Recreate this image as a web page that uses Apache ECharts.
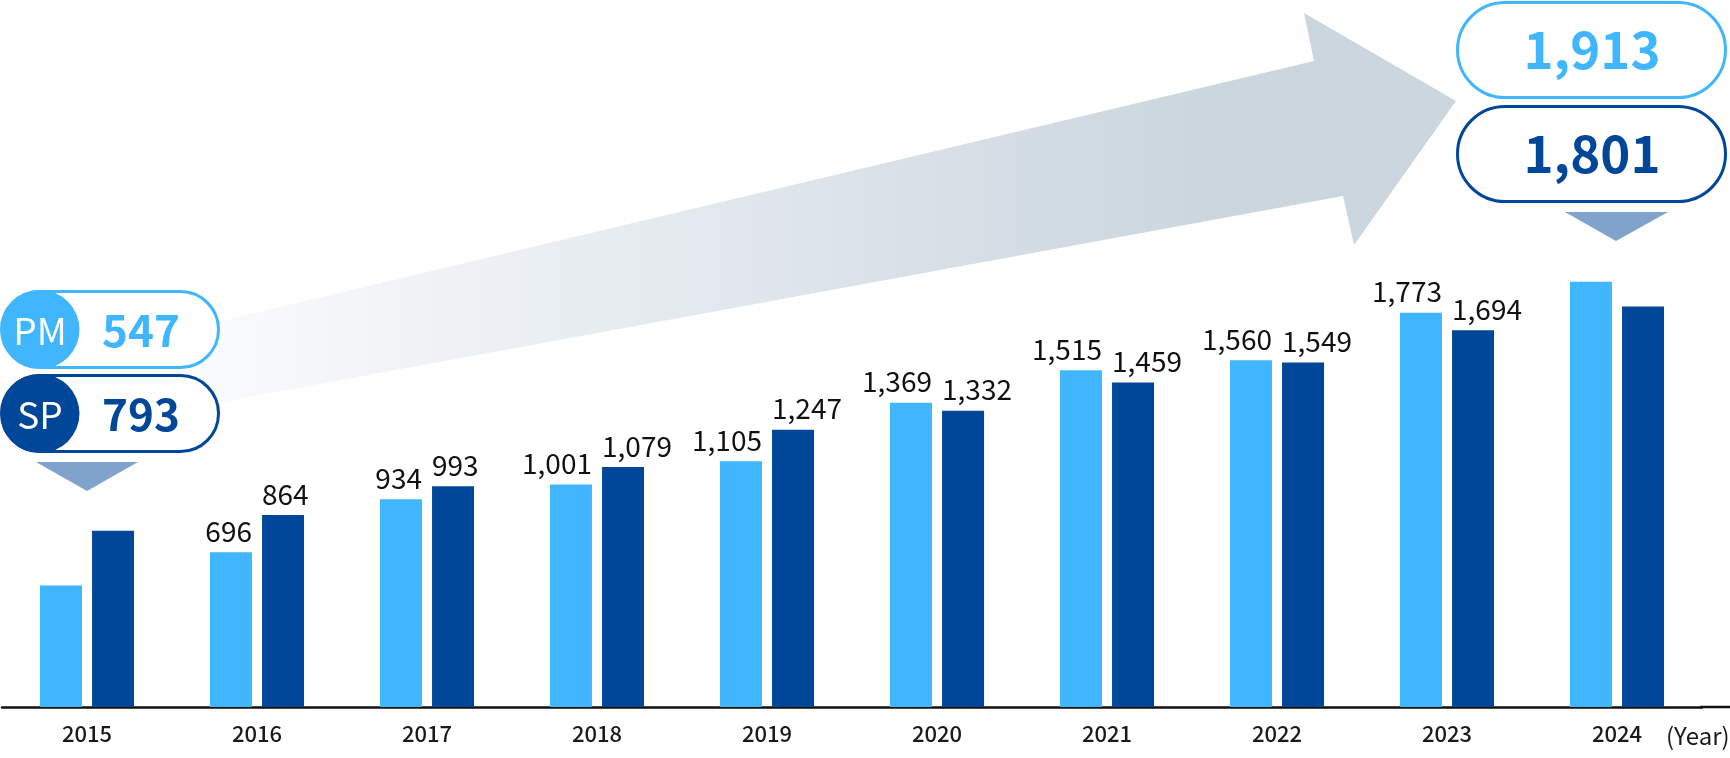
<!DOCTYPE html>
<html>
<head>
<meta charset="utf-8">
<script src="https://cdn.jsdelivr.net/npm/echarts@6/dist/echarts.min.js"></script>
<style>
  html, body { margin: 0; padding: 0; background: #fff; }
  #main { width: 1730px; height: 758px; }
</style>
</head>
<body>
<div id="main"></div>
<script>
// データ
const years = ["2015", "2016", "2017", "2018", "2019", "2020", "2021", "2022", "2023", "2024"];
const pmValues = [547, 696, 934, 1001, 1105, 1369, 1515, 1560, 1773, 1913];
const spValues = [793, 864, 993, 1079, 1247, 1332, 1459, 1549, 1694, 1801];
const seriesNames = ["PM", "SP"];

const LIGHT = "#40b6ff";
const DARK = "#004699";
const FONT = "'Noto Sans CJK JP', 'Noto Sans', sans-serif";

const fmt = (v) => v.toLocaleString("en-US");
const last = years.length - 1;

// 最初と最後の年はラベルを出さない (ピルで表示するため)
const toData = (arr) =>
  arr.map((v, i) => (i === 0 || i === last ? { value: v, label: { show: false } } : v));

const chartDom = document.getElementById("main");
const myChart = echarts.init(chartDom);

// 左のピル (2015)
const leftPill = (y, color, tag, value) => [
  {
    type: "rect",
    z: 10,
    shape: { x: 1.5, y: y + 1.5, width: 217, height: 76, r: 38 },
    style: { fill: "#fff", stroke: color, lineWidth: 3 },
  },
  {
    type: "circle",
    z: 11,
    shape: { cx: 40, cy: y + 39.5, r: 39.5 },
    style: { fill: color },
  },
  {
    type: "text",
    z: 12,
    x: 40,
    y: y + 41,
    style: {
      text: tag, fill: "#fff", font: "37px " + FONT,
      align: "center", verticalAlign: "middle",
    },
  },
  {
    type: "text",
    z: 12,
    x: 141,
    y: y + 40,
    style: {
      text: fmt(value), fill: color, font: "bold 44px " + FONT,
      align: "center", verticalAlign: "middle",
    },
  },
];

// 右のピル (2024)
const rightPill = (y, color, value) => [
  {
    type: "rect",
    z: 10,
    shape: { x: 1457.5, y: y + 1.5, width: 268, height: 95, r: 47.5 },
    style: { fill: "#fff", stroke: color, lineWidth: 3 },
  },
  {
    type: "text",
    z: 12,
    x: 1592,
    y: y + 49,
    style: {
      text: fmt(value), fill: color, font: "bold 51px " + FONT,
      align: "center", verticalAlign: "middle",
    },
  },
];

const labelStyle = {
  show: true,
  position: "top",
  distance: 7,
  color: "#111",
  fontSize: 28,
  fontFamily: FONT,
  formatter: (p) => fmt(p.value),
};

const option = {
  animation: false,
  grid: { left: 2, right: 28, top: 40, bottom: 51 },
  xAxis: {
    type: "category",
    data: years,
    axisTick: { show: false },
    axisLine: { lineStyle: { color: "#111", width: 2.5 } },
    axisLabel: {
      color: "#1a1a1a",
      fontSize: 22,
      fontWeight: 500,
      fontFamily: FONT,
      margin: 16,
    },
  },
  yAxis: {
    type: "value",
    min: 0,
    max: 3000,
    show: false,
    splitLine: { show: false },
  },
  series: [
    {
      name: seriesNames[0],
      type: "bar",
      data: toData(pmValues),
      barWidth: 42,
      barGap: "24%",
      itemStyle: { color: LIGHT },
      label: Object.assign({}, labelStyle, { align: "right", offset: [21, 0] }),
    },
    {
      name: seriesNames[1],
      type: "bar",
      data: toData(spValues),
      barWidth: 42,
      itemStyle: { color: DARK },
      label: Object.assign({}, labelStyle, { align: "left", offset: [-21, 0] }),
    },
  ],
  graphic: [
    // 大きな矢印
    {
      type: "polygon",
      z: 1,
      shape: {
        points: [
          [200, 326], [1314, 61], [1304, 13], [1456, 101],
          [1354, 245], [1343, 196], [200, 406],
        ],
      },
      style: {
        fill: new echarts.graphic.LinearGradient(0, 0, 1, 0, [
          { offset: 0, color: "#fafbfc" },
          { offset: 0.8, color: "#cbd6df" },
          { offset: 1, color: "#cbd6df" },
        ]),
      },
    },
    ...leftPill(290, LIGHT, seriesNames[0], pmValues[0]),
    ...leftPill(374, DARK, seriesNames[1], spValues[0]),
    ...rightPill(1, LIGHT, pmValues[last]),
    ...rightPill(105, DARK, spValues[last]),
    // 下向きの三角
    {
      type: "polygon",
      z: 10,
      shape: { points: [[36, 462], [138, 462], [87, 491]] },
      style: { fill: "#80a3cc" },
    },
    {
      type: "polygon",
      z: 10,
      shape: { points: [[1565, 212], [1668, 212], [1616, 241]] },
      style: { fill: "#80a3cc" },
    },
    // 軸線の延長
    {
      type: "line",
      z: 10,
      shape: { x1: 1700, y1: 707, x2: 1730, y2: 707 },
      style: { stroke: "#111", lineWidth: 2.5 },
    },
    {
      type: "text",
      z: 10,
      x: 1666,
      y: 736,
      style: {
        text: "(Year)", fill: "#1a1a1a", font: "24px " + FONT,
        align: "left", verticalAlign: "middle",
      },
    },
  ],
};

option && myChart.setOption(option);
</script>
</body>
</html>
